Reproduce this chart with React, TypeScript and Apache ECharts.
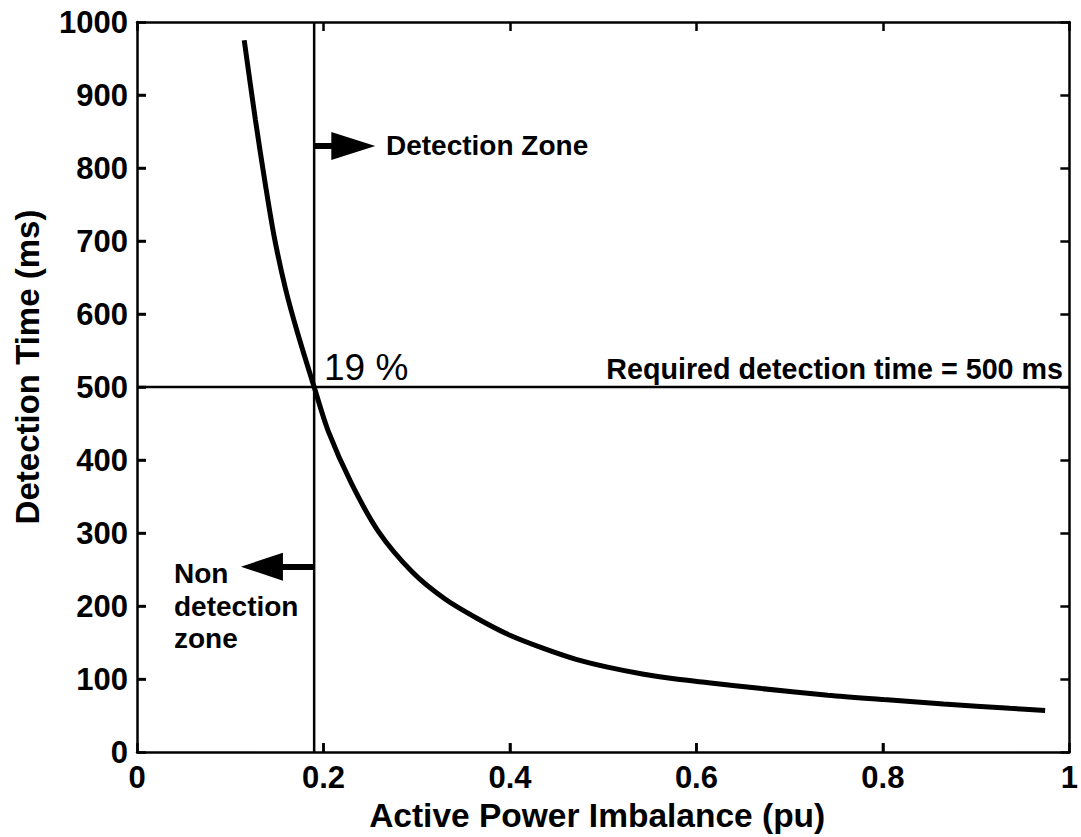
import React, { useEffect, useRef } from "react";
import * as echarts from "echarts";

// Active power imbalance (pu) and detection time (ms)
const imbalance = [0.115, 0.127, 0.138, 0.147, 0.159, 0.172, 0.19, 0.205, 0.23, 0.259, 0.295, 0.33, 0.365, 0.4, 0.436, 0.471, 0.506, 0.542, 0.578, 0.613, 0.67, 0.741, 0.801, 0.865, 0.936, 0.974];
const detectionTime = [975, 866, 775, 707, 636, 575, 500, 440, 368, 302, 247, 210, 183, 160, 142, 127, 116, 107, 100, 95, 87, 78, 72, 66, 60, 57];

const thresholdImbalance = 0.19;
const requiredTime = 500;
const xRange = [0, 1];
const yRange = [0, 1000];
const xTickValues = [0.2, 0.4, 0.6, 0.8];
const yTickValues = [100, 200, 300, 400, 500, 600, 700, 800, 900];

// annotation arrows (data coordinates)
const detectionArrowY = 830;
const detectionArrowEndX = 0.232;
const nonDetectionArrowY = 254;
const nonDetectionArrowEndX = 0.134;

const FONT = "Liberation Sans, Arial, Helvetica, sans-serif";
const TICK_LEN = 9;

const mkLine = () => ({ show: true, onZero: false, lineStyle: { color: "#000", width: 2.5 } });
const mkTick = () => ({ show: true, inside: true, length: TICK_LEN, lineStyle: { color: "#000", width: 2.5 } });

export default function App() {
  const ref = useRef<HTMLDivElement>(null);

  useEffect(() => {
    document.body.style.margin = "0";
    const chart = echarts.init(ref.current!, null, { renderer: "svg" });
    const annot = () => ({ fontSize: 28, fontWeight: "bold", fontFamily: FONT, fill: "#000", verticalAlign: "middle" });

    const texts: any[] = [
      {
        type: "text",
        x: 27,
        y: 367,
        rotation: Math.PI / 2,
        style: {
          text: "Detection Time (ms)",
          fontSize: 33,
          fontWeight: "bold",
          fontFamily: FONT,
          fill: "#000",
          align: "center",
          verticalAlign: "middle",
        },
      },
      {
        type: "text",
        x: 324,
        y: 367,
        style: { text: "19 %", fontSize: 37, fontFamily: FONT, fill: "#000", verticalAlign: "middle" },
      },
      { type: "text", x: 386, y: 145, style: { ...annot(), text: "Detection Zone" } },
      {
        type: "text",
        x: 1063,
        y: 369,
        style: { ...annot(), fontSize: 28.7, text: "Required detection time = 500 ms", align: "right" },
      },
      { type: "text", x: 174, y: 573, style: { ...annot(), text: "Non" } },
      { type: "text", x: 174, y: 606, style: { ...annot(), text: "detection" } },
      { type: "text", x: 174, y: 638, style: { ...annot(), text: "zone" } },
    ];

    chart.setOption({
      animation: false,
      backgroundColor: "#fff",
      grid: { left: 137, right: 4, top: 22, bottom: 83, containLabel: false },
      xAxis: [
        {
          type: "value",
          position: "bottom",
          min: xRange[0],
          max: xRange[1],
          interval: 0.2,
          axisLine: mkLine(),
          axisTick: mkTick(),
          splitLine: { show: false },
          axisLabel: { color: "#000", fontSize: 31, fontWeight: "bold", fontFamily: FONT, margin: 10 },
          name: "Active Power Imbalance (pu)",
          nameLocation: "middle",
          nameGap: 45,
          nameTextStyle: { color: "#000", fontSize: 33.5, fontWeight: "bold", fontFamily: FONT, padding: [0, 12, 0, 0] },
        },
        {
          type: "value",
          position: "top",
          min: xRange[0],
          max: xRange[1],
          interval: 0.2,
          axisLine: mkLine(),
          axisTick: mkTick(),
          splitLine: { show: false },
          axisLabel: { show: false },
        },
      ],
      yAxis: [
        {
          type: "value",
          position: "left",
          min: yRange[0],
          max: yRange[1],
          interval: 100,
          axisLine: mkLine(),
          axisTick: mkTick(),
          splitLine: { show: false },
          axisLabel: {
            color: "#000",
            fontSize: 31,
            fontWeight: "bold",
            fontFamily: FONT,
            margin: 9,
            formatter: (v: number) => String(v),
          },
        },
        {
          type: "value",
          position: "right",
          min: yRange[0],
          max: yRange[1],
          interval: 100,
          axisLine: mkLine(),
          axisTick: mkTick(),
          splitLine: { show: false },
          axisLabel: { show: false },
        },
      ],
      series: [
        {
          type: "line",
          data: imbalance.map((x, i) => [x, detectionTime[i]]),
          showSymbol: false,
          smooth: 0.3,
          lineStyle: { color: "#000", width: 5 },
          z: 5,
        },
        {
          type: "line",
          data: [
            [thresholdImbalance, yRange[0]],
            [thresholdImbalance, yRange[1]],
          ],
          showSymbol: false,
          lineStyle: { color: "#000", width: 2.5 },
        },
        {
          type: "line",
          data: [
            [xRange[0], requiredTime],
            [xRange[1], requiredTime],
          ],
          showSymbol: false,
          lineStyle: { color: "#000", width: 2.5 },
          markLine: {
            silent: true,
            animation: false,
            lineStyle: { color: "#000", width: 6, type: "solid" },
            label: { show: false },
            data: [
              [
                { coord: [thresholdImbalance, detectionArrowY], symbol: "none" },
                { coord: [detectionArrowEndX, detectionArrowY], symbol: "triangle", symbolSize: [28, 44] },
              ],
              [
                { coord: [thresholdImbalance, nonDetectionArrowY], symbol: "none" },
                { coord: [nonDetectionArrowEndX, nonDetectionArrowY], symbol: "triangle", symbolSize: [28, 42] },
              ],
            ],
          },
        },
      ],
      graphic: texts,
    });

    // inward ticks of the bottom and left axes, placed through the grid's own scale
    const tickLines: any[] = [];
    xTickValues.forEach((v, i) => {
      const p = chart.convertToPixel({ gridIndex: 0 }, [v, yRange[0]]) as number[];
      tickLines.push({
        type: "line",
        id: "xt" + i,
        z: 100,
        silent: true,
        shape: { x1: p[0], y1: p[1], x2: p[0], y2: p[1] - TICK_LEN },
        style: { stroke: "#000", lineWidth: 2.5 },
      });
    });
    yTickValues.forEach((v, i) => {
      const p = chart.convertToPixel({ gridIndex: 0 }, [xRange[0], v]) as number[];
      tickLines.push({
        type: "line",
        id: "yt" + i,
        z: 100,
        silent: true,
        shape: { x1: p[0], y1: p[1], x2: p[0] + TICK_LEN, y2: p[1] },
        style: { stroke: "#000", lineWidth: 2.5 },
      });
    });
    chart.setOption({ graphic: [...texts, ...tickLines] });

    return () => chart.dispose();
  }, []);

  return <div ref={ref} style={{ width: 1081, height: 837 }} />;
}
